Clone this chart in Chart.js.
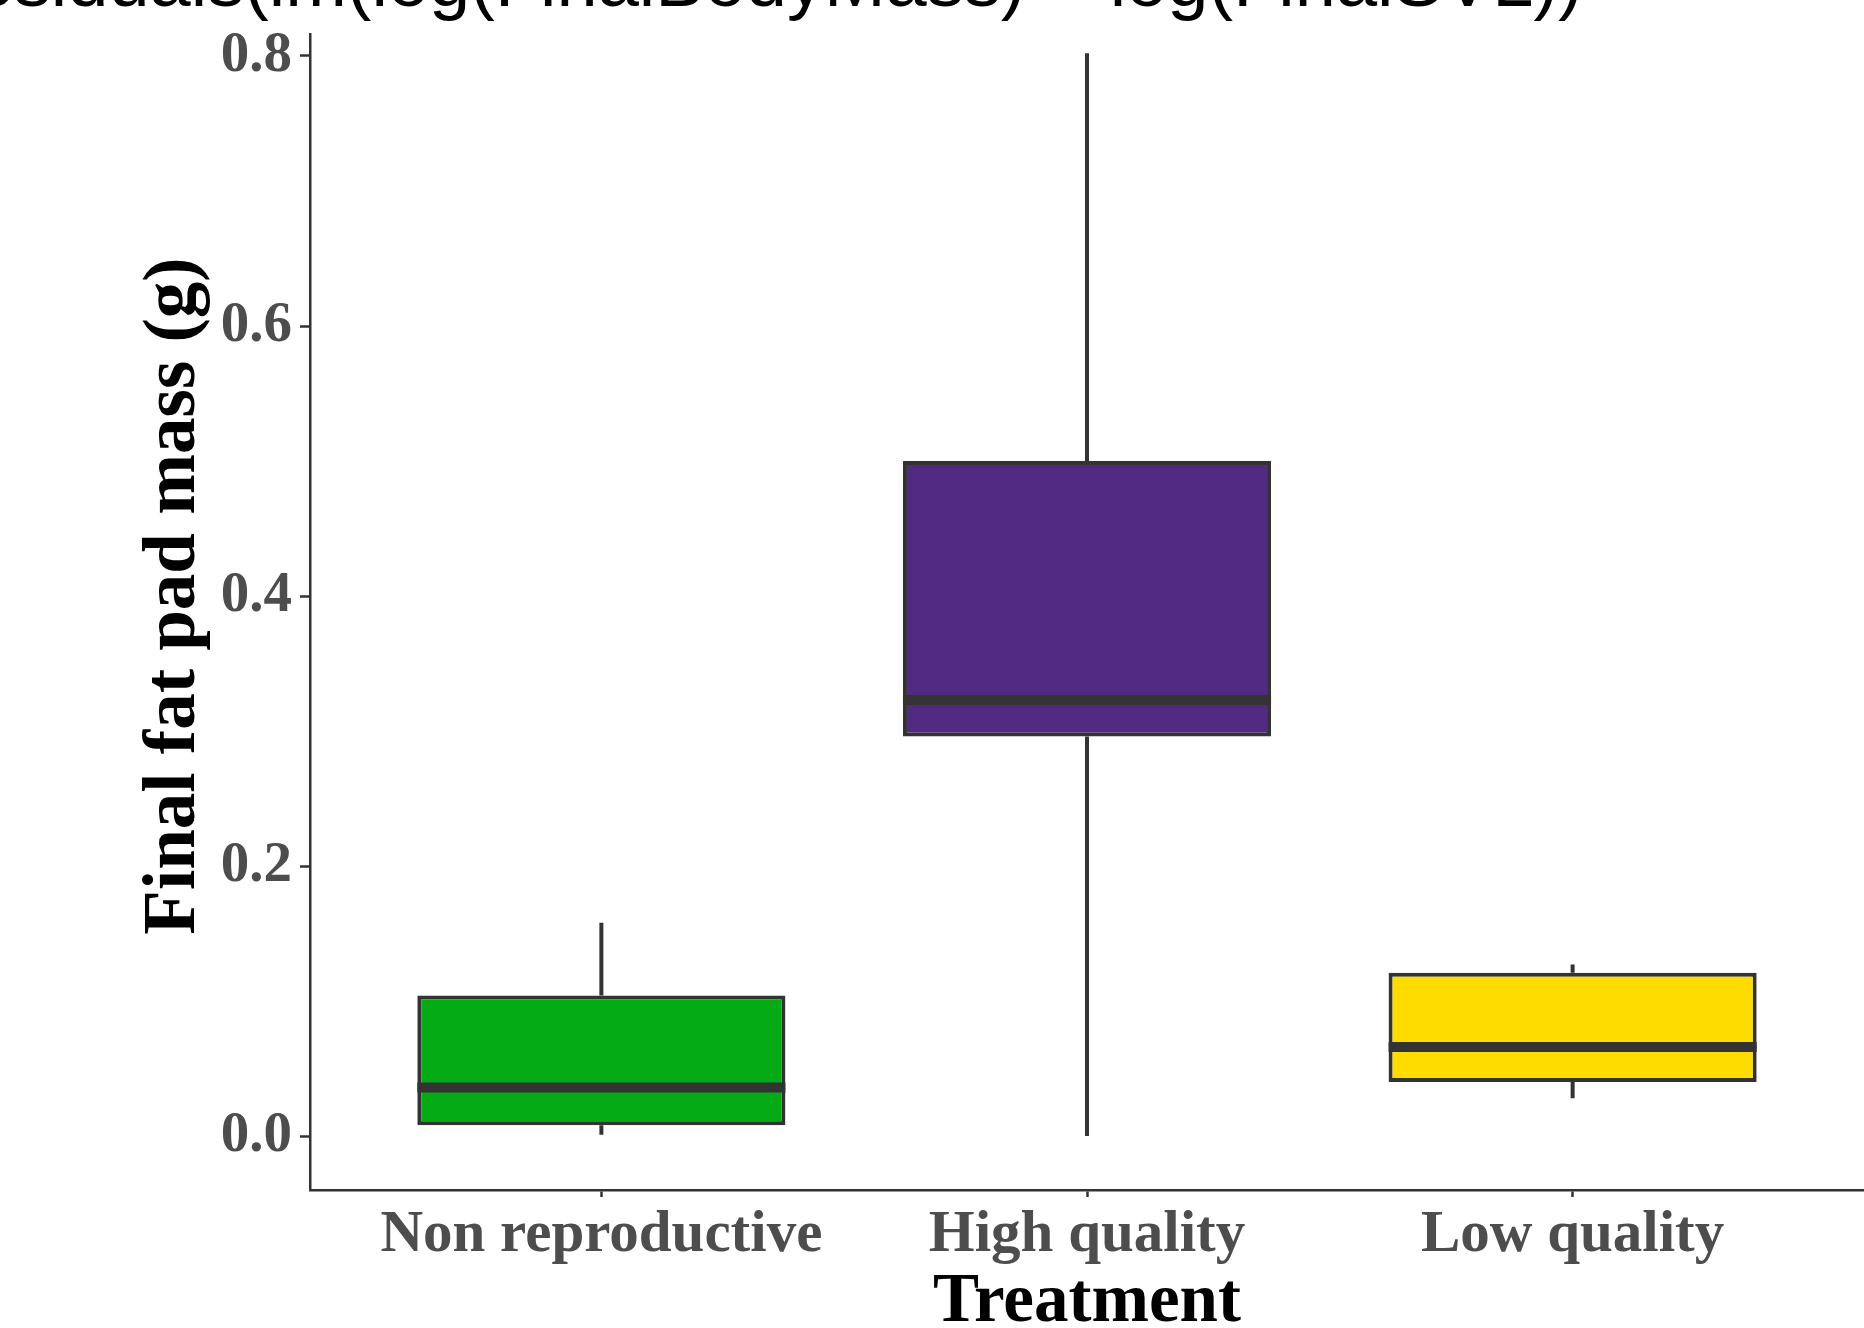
<!DOCTYPE html>
<html><head><meta charset="utf-8">
<script src="https://cdn.jsdelivr.net/npm/chart.js@4.4.1/dist/chart.umd.min.js"></script>
<style>
html,body{margin:0;padding:0;background:#fff;overflow:hidden;}
#wrap{position:relative;width:1864px;height:1328px;overflow:hidden;background:#fff;}
#c{position:absolute;left:0;top:0;}
#cover{position:absolute;left:0;top:0;width:1864px;height:33px;background:#fff;}
#title{position:absolute;left:-52px;top:-56px;font-family:'Liberation Sans',Arial,sans-serif;font-size:74px;line-height:74px;white-space:nowrap;color:#000;}
</style></head>
<body><div id="wrap"><canvas id="c" width="1864" height="1328"></canvas><div id="cover"></div><div id="title">residuals(lm(log(FinalBodyMass) ~ log(FinalSVL))</div></div>
<script>
const categories = ['Non reproductive', 'High quality', 'Low quality'];
const whiskerLow = [0.001, 0.000, 0.028];
const q1 = [0.008, 0.296, 0.040];
const median = [0.036, 0.323, 0.066];
const q3 = [0.104, 0.500, 0.121];
const whiskerHigh = [0.158, 0.802, 0.127];
const yTicks = [0, 0.2, 0.4, 0.6, 0.8];
const boxColors = ['#04AB14', '#512A82', '#FEDC00'];

const serif = "'Liberation Serif','Times New Roman',serif";
const boxData = categories.map((c, i) => ({x: i + 1, y: [q1[i], q3[i]]}));

const boxExtras = {
  id: 'boxExtras',
  beforeDatasetsDraw(chart) {
    const {ctx, scales: {x, y}} = chart;
    ctx.save();
    ctx.strokeStyle = '#333333';
    ctx.lineWidth = 4;
    categories.forEach((c, i) => {
      const px = x.getPixelForValue(i + 1);
      ctx.beginPath();
      ctx.moveTo(px, y.getPixelForValue(whiskerHigh[i]));
      ctx.lineTo(px, y.getPixelForValue(q3[i]));
      ctx.moveTo(px, y.getPixelForValue(q1[i]));
      ctx.lineTo(px, y.getPixelForValue(whiskerLow[i]));
      ctx.stroke();
    });
    ctx.restore();
  },
  afterDatasetsDraw(chart) {
    const {ctx, scales: {y}} = chart;
    const meta = chart.getDatasetMeta(0);
    ctx.save();
    ctx.strokeStyle = '#333333';
    ctx.lineWidth = 10;
    meta.data.forEach((bar, i) => {
      const py = y.getPixelForValue(median[i]);
      ctx.beginPath();
      ctx.moveTo(bar.x - bar.width / 2, py);
      ctx.lineTo(bar.x + bar.width / 2, py);
      ctx.stroke();
    });
    ctx.restore();
  }
};

new Chart(document.getElementById('c'), {
  type: 'bar',
  data: {
    datasets: [{
      data: boxData,
      backgroundColor: boxColors,
      borderColor: '#333333',
      borderWidth: 4,
      borderSkipped: false,
      barPercentage: 0.758,
      categoryPercentage: 1
    }]
  },
  options: {
    responsive: false,
    animation: false,
    devicePixelRatio: 1,
    layout: {padding: {top: 2, left: 0, right: 0, bottom: 0}},
    plugins: {legend: {display: false}, tooltip: {enabled: false}, title: {display: false}},
    scales: {
      x: {
        type: 'linear',
        min: 0.4, max: 3.6,
        offset: false,
        afterBuildTicks: (s) => { s.ticks = categories.map((c, i) => ({value: i + 1})); },
        afterFit: (s) => { s.height = 138; s.paddingLeft = 0; s.paddingRight = 0; },
        ticks: {
          callback: (v) => categories[Math.round(v) - 1],
          font: {family: serif, size: 59, weight: 'bold', lineHeight: 1},
          color: '#4D4D4D',
          padding: 9,
          maxRotation: 0, autoSkip: false
        },
        grid: {display: true, drawOnChartArea: false, drawTicks: true, tickLength: 7, tickColor: '#333333', tickWidth: 2.5, offset: false},
        border: {display: true, color: '#333333', width: 2.5},
        title: {display: true, text: 'Treatment', color: '#000000', font: {family: serif, size: 69, weight: 'bold', lineHeight: 0.72}, padding: 0}
      },
      y: {
        type: 'linear',
        min: -0.04, max: 0.84,
        afterBuildTicks: (s) => { s.ticks = yTicks.map(v => ({value: v})); },
        afterFit: (s) => { s.width = 310; s.paddingTop = 0; s.paddingBottom = 0; },
        ticks: {
          callback: (v) => Number(v).toFixed(1),
          font: {family: serif, size: 57, weight: 'bold', lineHeight: 1},
          color: '#4D4D4D',
          padding: 8
        },
        grid: {display: true, drawOnChartArea: false, drawTicks: true, tickLength: 10, tickColor: '#333333', tickWidth: 2.5},
        border: {display: true, color: '#333333', width: 2.5},
        title: {display: true, text: 'Final fat pad mass (g)', color: '#000000', font: {family: serif, size: 73, weight: 'bold', lineHeight: 1.2}, padding: {top: 131, bottom: 0}}
      }
    }
  },
  plugins: [boxExtras]
});
</script>
</body></html>
